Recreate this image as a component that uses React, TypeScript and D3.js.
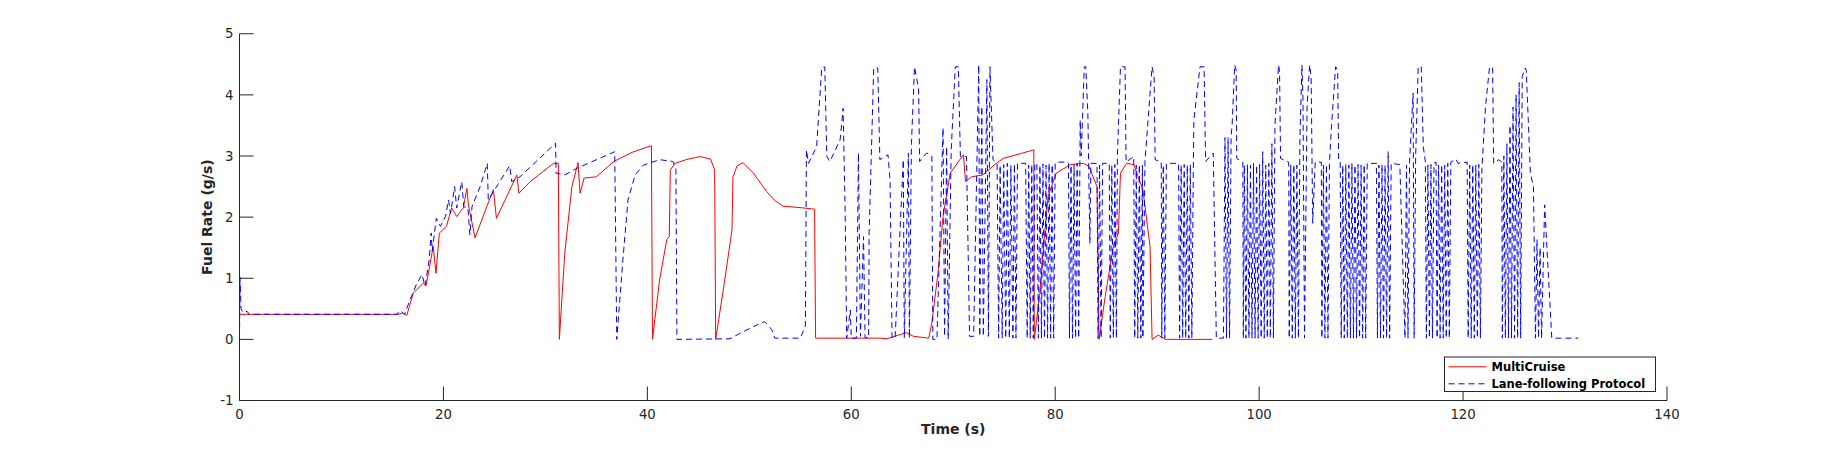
import * as d3 from 'd3';

const WIDTH = 1842;
const HEIGHT = 450;
const MARGIN = { left: 239.5, right: 175, top: 33.75, bottom: 49.5 };

const X_TICKS = [0, 20, 40, 60, 80, 100, 120, 140];
const Y_TICKS = [-1, 0, 1, 2, 3, 4, 5];

const SERIES_NAMES = ['MultiCruise', 'Lane-following Protocol'];

// [time s, fuel rate g/s]
const multiCruise: [number, number][] = [
  [0, 0.41], [15.6, 0.41], [16.0, 0.43], [16.4, 0.39], [17.05, 0.76], [18.03, 0.92], [18.3, 0.88],
  [19.0, 1.52], [19.27, 1.08], [19.6, 1.74], [20.3, 1.85], [20.8, 2.15], [21.3, 2.01], [21.95, 2.15],
  [22.3, 2.47], [22.45, 2.2], [23.1, 1.66], [24.2, 2.15], [24.9, 2.45], [25.2, 1.98], [27.2, 2.69],
  [27.4, 2.39], [28.5, 2.58], [30.8, 2.88], [31.27, 2.88], [31.37, 0.0], [31.9, 1.41], [32.6, 2.5],
  [33.2, 2.89], [33.4, 2.39], [33.8, 2.64], [35.0, 2.66], [36.7, 2.91], [38.5, 3.06], [40.4, 3.17],
  [40.5, 0.0], [41.2, 0.97], [41.9, 1.63], [42.15, 1.68], [42.25, 2.77], [42.7, 2.88], [44.0, 2.95],
  [45.2, 2.99], [46.2, 2.95], [46.6, 2.77], [46.7, 0.0], [47.5, 0.87], [48.3, 1.79], [48.4, 2.66],
  [48.8, 2.84], [49.4, 2.89], [50.4, 2.72], [51.7, 2.42], [52.5, 2.27], [53.3, 2.18], [55.3, 2.15],
  [56.4, 2.13], [56.5, 0.02], [62.8, 0.02], [63.5, 0.01], [65.4, 0.11], [66.1, 0.05], [67.6, 0.02],
  [67.9, 0.27], [68.5, 1.08], [69.0, 2.01], [69.7, 2.72], [71.0, 3.02], [71.2, 2.58], [71.8, 2.66],
  [72.9, 2.69], [74.0, 2.85], [74.9, 2.96], [77.9, 3.1], [77.95, 0.0], [78.5, 0.76], [79.0, 1.79],
  [79.3, 2.34], [80.1, 2.72], [81.5, 2.86], [82.8, 2.88], [83.3, 2.83], [84.1, 2.5], [84.3, 0.0],
  [84.9, 0.7], [85.7, 1.52], [86.2, 1.74], [86.4, 2.72], [87.0, 2.88], [87.7, 2.86], [88.6, 2.45],
  [89.3, 1.52], [89.5, 0.0], [90.1, 0.07], [90.8, 0.0], [95.4, 0.0],
];

const laneFollowing: [number, number][] = [
  [0, 0.02], [0.05, 1.02], [0.15, 0.5], [0.3, 0.45], [0.4, 0.47], [0.8, 0.45], [0.9, 0.41],
  [15.5, 0.41], [15.6, 0.46], [15.9, 0.45], [16.2, 0.41], [16.5, 0.55], [16.9, 0.72], [17.4, 0.92],
  [17.9, 1.06], [18.2, 0.87], [18.6, 1.3], [18.8, 1.74], [18.9, 1.45], [19.3, 1.98], [19.7, 1.85],
  [20.2, 2.01], [20.5, 2.28], [20.7, 2.06], [21.1, 2.5], [21.3, 2.15], [21.8, 2.58], [22.0, 2.17],
  [22.4, 2.15], [22.6, 1.71], [22.8, 2.17], [23.6, 2.5], [24.3, 2.88], [24.4, 2.28], [25.1, 2.47],
  [26.5, 2.84], [26.7, 2.58], [27.5, 2.66], [31.0, 3.21], [31.05, 2.72], [31.9, 2.69], [33.1, 2.8],
  [36.8, 3.07], [37.0, 0.0], [37.6, 1.3], [38.1, 2.28], [38.8, 2.69], [39.6, 2.85], [41.2, 2.94],
  [42.5, 2.91], [42.8, 2.8], [42.9, 0.0], [48.1, 0.01], [49.1, 0.1], [50.4, 0.21], [51.5, 0.29],
  [52.2, 0.16], [52.5, 0.02], [55.0, 0.02], [55.5, 0.22], [55.6, 3.1], [55.8, 2.88], [56.6, 3.15],
  [57.1, 4.44], [57.4, 4.46], [57.6, 2.99], [57.9, 2.91], [58.9, 3.26], [59.2, 3.78], [59.4, 2.06],
  [59.55, 0.02], [59.9, 0.48], [60.0, 0.02], [60.5, 0.02], [60.7, 3.05], [60.9, 0.05], [61.2, 1.68],
  [61.35, 0.03], [61.7, 0.02], [61.75, 1.74], [62.2, 4.44], [62.6, 4.44], [62.8, 2.94], [63.6, 3.02],
  [63.8, 2.61], [64.0, 0.02], [64.3, 0.02], [65.1, 2.94], [65.2, 0.02], [65.6, 3.05], [65.7, 0.02],
  [65.9, 3.2], [66.2, 4.46], [66.6, 4.1], [66.7, 2.91], [67.4, 3.05], [67.9, 3.0], [68.0, 0.0],
  [68.4, 0.0], [69.0, 3.46], [69.15, 0.05], [69.35, 3.15], [69.5, 0.0], [69.8, 3.1], [70.2, 4.46],
  [70.5, 4.46], [70.7, 2.99], [71.3, 2.99], [71.6, 0.05], [72.0, 0.05], [72.5, 4.49], [72.6, 0.05],
  [72.8, 3.81], [72.95, 0.05], [73.3, 4.25], [73.45, 0.05], [73.6, 4.46], [73.9, 2.94], [74.3, 2.88],
  [74.45, 0.02], [74.6, 2.85], [74.8, 0.02], [74.95, 2.86], [75.15, 0.02], [75.3, 2.88], [75.5, 0.02],
  [75.65, 2.85], [75.85, 0.02], [76.0, 2.87], [76.15, 0.02], [76.3, 2.88], [77.1, 2.88], [77.25, 0.02],
  [77.4, 2.85], [77.55, 0.02], [77.7, 2.86], [77.85, 0.02], [78.0, 2.88], [78.2, 2.88], [78.35, 0.02],
  [78.5, 2.85], [78.65, 0.02], [78.8, 2.87], [78.95, 0.02], [79.1, 2.85], [79.25, 0.02], [79.4, 2.88],
  [79.55, 0.02], [79.7, 2.86], [79.85, 0.02], [80.0, 2.88], [80.1, 2.9], [81.2, 2.9], [81.3, 2.88],
  [81.4, 0.02], [81.55, 2.85], [81.7, 0.02], [81.85, 2.86], [82.0, 0.02], [82.15, 2.88], [82.3, 0.02],
  [82.45, 3.59], [82.55, 3.0], [82.85, 4.46], [83.0, 4.46], [83.2, 3.7], [83.4, 1.57], [83.5, 2.88],
  [84.1, 2.88], [84.2, 0.02], [84.35, 2.85], [84.5, 0.02], [84.65, 2.88], [85.3, 2.88], [85.4, 0.02],
  [85.55, 2.85], [85.7, 0.02], [85.85, 2.86], [86.0, 0.02], [86.1, 3.0], [86.4, 4.46], [86.85, 4.46],
  [86.95, 2.9], [87.7, 2.99], [87.8, 0.02], [87.95, 2.85], [88.1, 0.02], [88.25, 2.86], [88.4, 0.02],
  [88.55, 2.85], [88.6, 0.02], [88.8, 2.9], [89.2, 3.8], [89.5, 4.46], [89.7, 4.3], [89.8, 2.94],
  [90.4, 2.9], [90.45, 0.02], [90.6, 2.85], [90.75, 0.02], [90.9, 2.88], [92.1, 2.88], [92.2, 0.02],
  [92.35, 2.85], [92.5, 0.02], [92.65, 2.86], [92.8, 0.02], [92.95, 2.85], [93.1, 0.02], [93.25, 2.86],
  [93.4, 0.02], [93.55, 2.9], [93.6, 3.59], [94.2, 4.46], [94.6, 4.46], [94.75, 2.91], [95.5, 3.05],
  [95.8, 0.02], [96.5, 0.02], [96.65, 3.3], [96.8, 0.02], [96.95, 3.3], [97.1, 0.02], [97.25, 3.32],
  [97.35, 3.5], [97.6, 4.49], [97.75, 4.4], [97.8, 2.96], [98.4, 2.9], [98.45, 0.02], [98.55, 2.85],
  [98.7, 0.02], [98.85, 2.86], [99.0, 0.02], [99.15, 2.85], [99.3, 0.02], [99.45, 2.88], [99.6, 0.02],
  [99.75, 2.85], [99.9, 0.02], [100.05, 2.86], [100.2, 0.02], [100.35, 3.07], [100.5, 0.02],
  [100.65, 2.85], [100.8, 0.02], [100.95, 2.88], [101.1, 0.02], [101.25, 3.2], [101.4, 0.02],
  [101.55, 3.5], [101.9, 4.49], [102.0, 4.4], [102.1, 2.96], [102.9, 2.9], [102.95, 0.02],
  [103.1, 2.85], [103.25, 0.02], [103.4, 2.86], [103.55, 0.02], [103.7, 2.85], [103.85, 0.02],
  [104.0, 3.3], [104.2, 4.49], [104.3, 3.92], [104.45, 0.02], [104.7, 3.8], [104.95, 4.49],
  [105.1, 4.3], [105.25, 1.9], [105.5, 2.9], [106.1, 2.9], [106.15, 0.02], [106.3, 2.85],
  [106.45, 0.02], [106.6, 2.86], [106.75, 0.02], [106.9, 2.9], [107.1, 3.5], [107.5, 4.46],
  [107.7, 4.4], [107.8, 2.91], [107.95, 2.9], [108.05, 0.02], [108.2, 2.85], [108.35, 0.02],
  [108.5, 2.86], [108.65, 0.02], [108.8, 2.85], [108.95, 0.02], [109.1, 2.88], [109.25, 0.02],
  [109.4, 2.85], [109.55, 0.02], [109.7, 2.86], [109.85, 0.02], [110.0, 2.85], [110.15, 0.02],
  [110.3, 2.86], [110.45, 0.02], [110.6, 2.88], [111.5, 2.88], [111.6, 0.02], [111.75, 2.85],
  [111.9, 0.02], [112.05, 2.86], [112.2, 0.02], [112.35, 2.85], [112.5, 0.02], [112.65, 3.07],
  [112.8, 0.02], [112.95, 2.88], [113.8, 2.86], [114.3, 0.02], [114.45, 2.85], [114.6, 0.02],
  [114.75, 2.9], [115.1, 4.03], [115.2, 0.02], [115.35, 3.0], [115.6, 4.46], [115.9, 4.46],
  [116.1, 3.15], [116.3, 2.91], [116.4, 0.02], [116.55, 2.85], [116.7, 0.02], [116.85, 2.86],
  [117.0, 0.02], [117.15, 2.88], [117.35, 2.9], [117.45, 0.02], [117.6, 2.85], [117.75, 0.02],
  [117.9, 2.86], [118.05, 0.02], [118.2, 2.85], [118.35, 0.02], [118.5, 2.88], [118.65, 0.02],
  [118.8, 2.9], [119.3, 2.95], [119.5, 2.88], [120.4, 2.9], [120.5, 0.02], [120.65, 2.85],
  [120.8, 0.02], [120.95, 2.86], [121.1, 0.02], [121.25, 2.85], [121.4, 0.02], [121.55, 2.86],
  [121.7, 0.02], [121.85, 2.8], [122.2, 3.81], [122.6, 4.46], [122.9, 4.44], [123.0, 2.88],
  [123.5, 2.94], [123.8, 2.9], [123.85, 0.02], [124.0, 3.0], [124.15, 0.02], [124.3, 3.2],
  [124.45, 0.02], [124.6, 3.5], [124.75, 0.02], [124.9, 3.8], [125.05, 0.02], [125.2, 4.0],
  [125.35, 0.02], [125.5, 4.2], [125.65, 0.02], [125.8, 4.3], [126.1, 4.44], [126.2, 4.4],
  [126.6, 2.72], [126.9, 2.5], [127.1, 0.02], [127.25, 1.63], [127.4, 0.02], [127.55, 1.5],
  [127.7, 0.02], [128.0, 2.2], [128.7, 0.02], [131.3, 0.02],
];

const COLORS = ['#ff0000', '#0000ff'];
const FONT = '"DejaVu Sans", sans-serif';

export default function App() {
  const innerW = WIDTH - MARGIN.left - MARGIN.right;
  const innerH = HEIGHT - MARGIN.top - MARGIN.bottom;

  const x = d3.scaleLinear().domain([0, 140]).range([MARGIN.left, MARGIN.left + innerW]);
  const y = d3.scaleLinear().domain([-1, 5]).range([MARGIN.top + innerH, MARGIN.top]);

  const line = d3.line<[number, number]>()
    .x((d) => x(d[0]))
    .y((d) => y(d[1]));

  const tickLen = 14;
  const x0 = x(0);
  const yBottom = y(-1);

  // legend box
  const lg = { x: 1444.5, y: 357, w: 211, h: 34.5 };

  return (
    <svg
      width={WIDTH}
      height={HEIGHT}
      style={{ position: 'absolute', left: 0, top: 0, background: '#fff' }}
      fontFamily={FONT}
    >
      <rect x={0} y={0} width={WIDTH} height={HEIGHT} fill="#fff" />

      <path d={line(multiCruise) ?? ''} fill="none" stroke={COLORS[0]} strokeWidth={1} />
      <path
        d={line(laneFollowing) ?? ''}
        fill="none"
        stroke={COLORS[1]}
        strokeWidth={1}
        strokeDasharray="6,4"
      />

      {/* axes */}
      <g stroke="#262626" strokeWidth={1} fill="none">
        <line x1={x0} x2={x0} y1={y(5)} y2={yBottom} />
        <line x1={x0} x2={x(140)} y1={yBottom} y2={yBottom} />
        {Y_TICKS.map((t) => (
          <line key={'yt' + t} x1={x0} x2={x0 + tickLen} y1={y(t)} y2={y(t)} />
        ))}
        {X_TICKS.map((t) => (
          <line key={'xt' + t} x1={x(t)} x2={x(t)} y1={yBottom} y2={yBottom - tickLen} />
        ))}
      </g>
      <g fill="#262626" fontSize={13.3}>
        {Y_TICKS.map((t) => (
          <text key={'yl' + t} x={x0 - 6} y={y(t)} dy="0.35em" textAnchor="end">
            {t}
          </text>
        ))}
        {X_TICKS.map((t) => (
          <text key={'xl' + t} x={x(t)} y={yBottom + 18} textAnchor="middle">
            {t}
          </text>
        ))}
      </g>
      <text
        x={(x0 + x(140)) / 2}
        y={434}
        textAnchor="middle"
        fontSize={14}
        fontWeight="bold"
        fill="#262626"
      >
        Time (s)
      </text>
      <text
        transform={`translate(212,${(y(5) + yBottom) / 2}) rotate(-90)`}
        textAnchor="middle"
        fontSize={14}
        fontWeight="bold"
        fill="#262626"
      >
        Fuel Rate (g/s)
      </text>

      {/* legend */}
      <rect x={lg.x} y={lg.y} width={lg.w} height={lg.h} fill="#fff" stroke="#262626" strokeWidth={1} />
      {SERIES_NAMES.map((name, i) => {
        const cy = lg.y + 9.8 + i * 17;
        return (
          <g key={name}>
            <line
              x1={lg.x + 4}
              x2={lg.x + 42}
              y1={cy}
              y2={cy}
              stroke={COLORS[i]}
              strokeWidth={1}
              strokeDasharray={i === 1 ? '6,4' : undefined}
            />
            <text x={lg.x + 47} y={cy} dy="0.35em" fontSize={11.5} fontWeight="bold" fill="#000">
              {name}
            </text>
          </g>
        );
      })}
    </svg>
  );
}
